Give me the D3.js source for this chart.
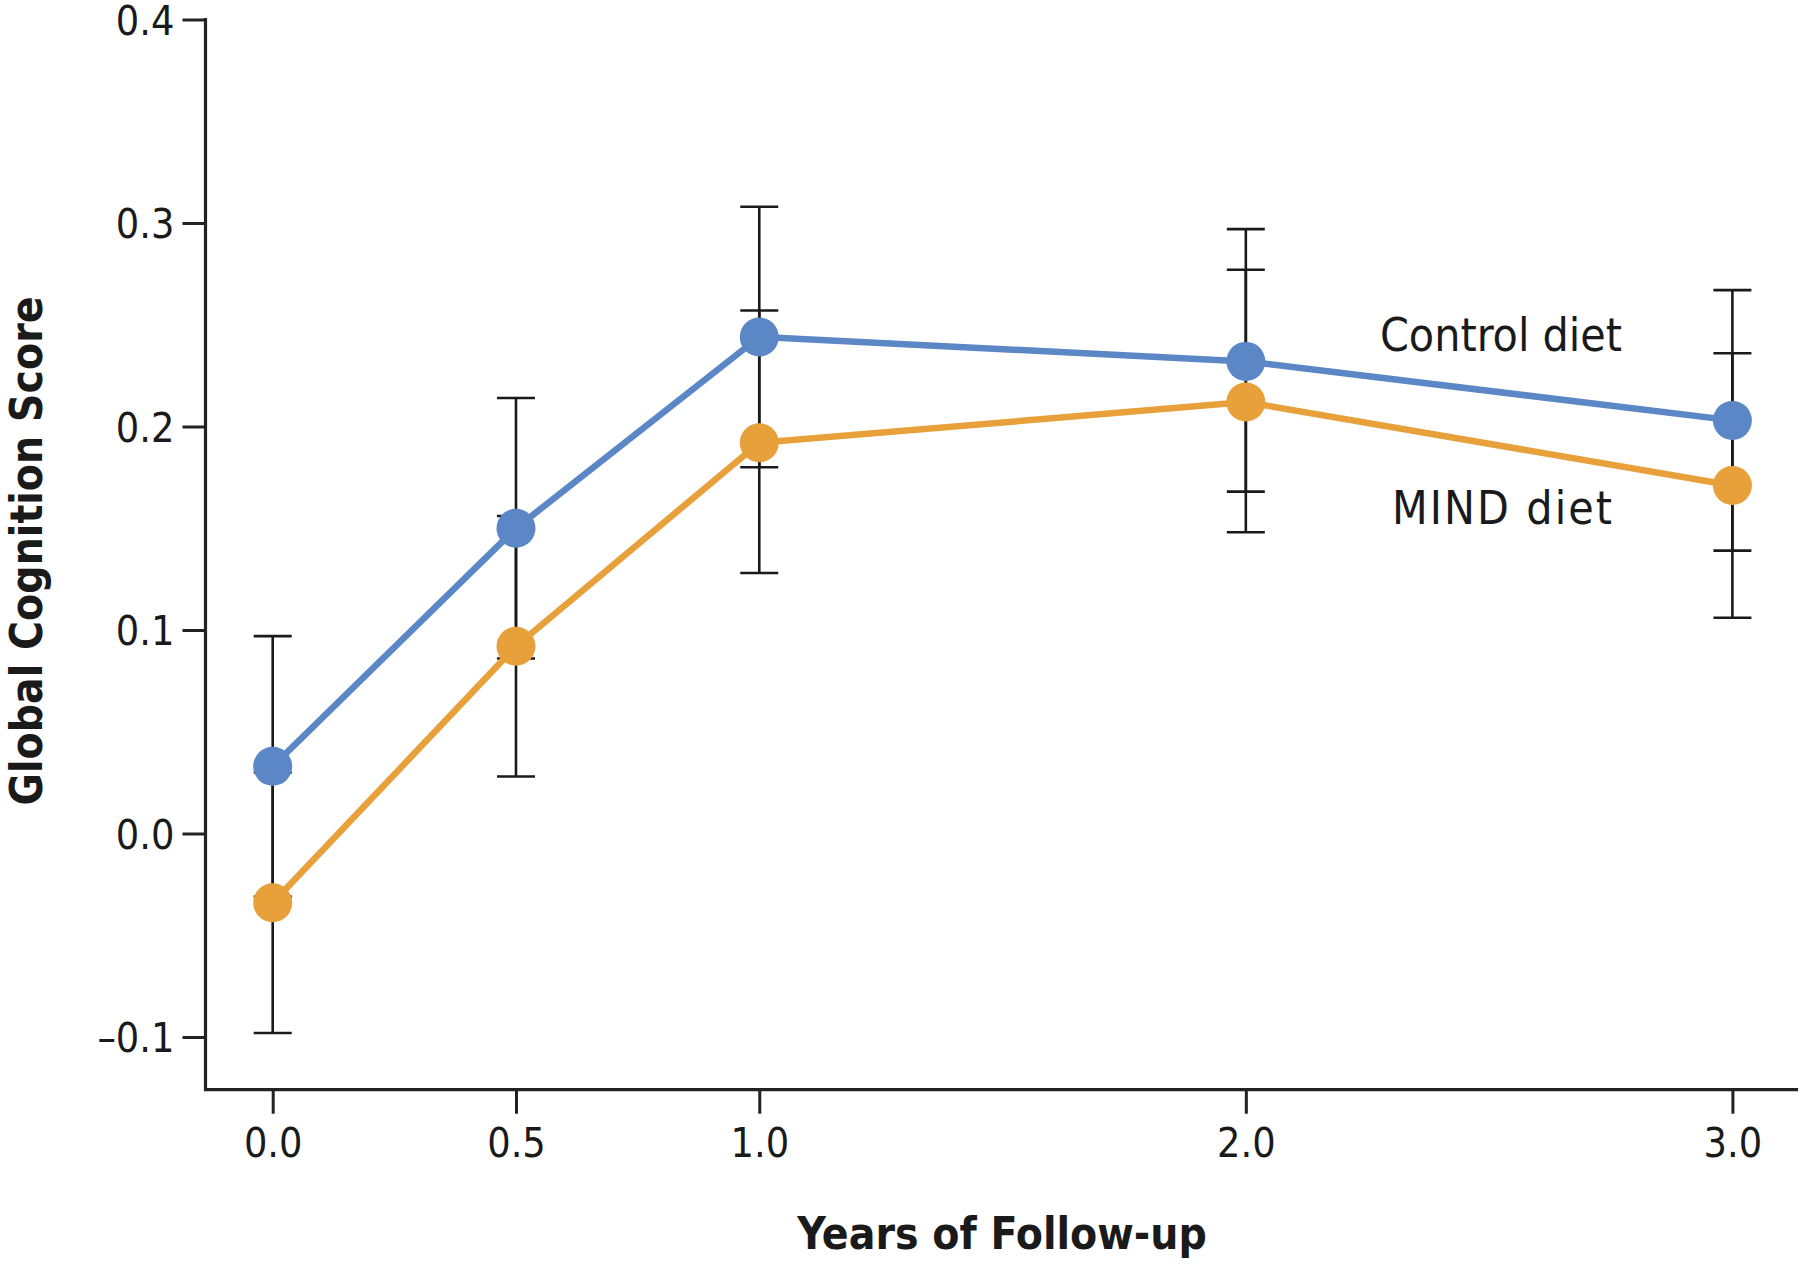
<!DOCTYPE html>
<html>
<head>
<meta charset="utf-8">
<script src="https://cdnjs.cloudflare.com/ajax/libs/d3/7.8.5/d3.min.js"></script>
<style>
  body { margin: 0; background: #fff; }
  text { font-family: "Liberation Sans Narrow", "DejaVu Sans Condensed", "Open Sans", sans-serif; fill: #1a1a1a; }
  .tick text { font-size: 41px; }
  .axis-title { font-weight: bold; font-size: 44px; }
  .series-label { font-size: 46px; }
</style>
</head>
<body>
<div id="chart"></div>
<script>

//Data
var years = [0.0, 0.5, 1.0, 2.0, 3.0];
var xTicks = [0.0, 0.5, 1.0, 2.0, 3.0];
var yTicks = [-0.1, 0.0, 0.1, 0.2, 0.3, 0.4];

var controlMean  = [0.033, 0.150, 0.244, 0.232, 0.203];
var controlLower = [-0.031, 0.086, 0.180, 0.168, 0.139];
var controlUpper = [0.097, 0.214, 0.308, 0.297, 0.267];

var mindMean  = [-0.034, 0.092, 0.192, 0.212, 0.171];
var mindLower = [-0.098, 0.028, 0.128, 0.148, 0.106];
var mindUpper = [0.030, 0.156, 0.257, 0.277, 0.236];

var series = [
  {name: "Control diet", color: "#5b87c6", mean: controlMean, lower: controlLower, upper: controlUpper},
  {name: "MIND diet", color: "#e8a03b", mean: mindMean, lower: mindLower, upper: mindUpper}
];

//Dimensions
var W = 1800, H = 1264;
var axisX = 205.5, axisY = 1089.7, axisRight = 1798;

var svg = d3.select("#chart").append("svg")
  .attr("width", W)
  .attr("height", H);

//Scales
var x = d3.scaleLinear().domain([0, 3]).range([272.7, 1732.4]);
var y = d3.scaleLinear().domain([-0.1, 0.4]).range([1037, 19.5]);

//Y axis
var yAxis = svg.append("g")
  .attr("transform", "translate(" + axisX + ",0)")
  .call(d3.axisLeft(y).tickValues(yTicks).tickSize(23).tickPadding(8).tickSizeOuter(0)
    .tickFormat(function(d) { return d < 0 ? "\u2013" + d3.format(".1f")(-d) : d3.format(".1f")(d); }));
yAxis.select(".domain").remove();
yAxis.selectAll(".tick line").attr("stroke", "#222").attr("stroke-width", 3);
yAxis.selectAll(".tick text").attr("fill", "#1a1a1a").attr("dy", "0.36em");

svg.append("line")
  .attr("x1", axisX).attr("x2", axisX)
  .attr("y1", y(0.4) - 1.5).attr("y2", axisY)
  .attr("stroke", "#222").attr("stroke-width", 3.2);

//X axis
var xAxis = svg.append("g")
  .attr("transform", "translate(0," + axisY + ")")
  .call(d3.axisBottom(x).tickValues(xTicks).tickSize(24).tickPadding(14).tickSizeOuter(0)
    .tickFormat(d3.format(".1f")));
xAxis.select(".domain").remove();
xAxis.selectAll(".tick line").attr("stroke", "#222").attr("stroke-width", 3);
xAxis.selectAll(".tick text").attr("fill", "#1a1a1a");

svg.append("line")
  .attr("x1", axisX - 1.5).attr("x2", axisRight)
  .attr("y1", axisY).attr("y2", axisY)
  .attr("stroke", "#222").attr("stroke-width", 3.2);

//Axis titles
svg.append("text")
  .attr("class", "axis-title")
  .attr("transform", "translate(42," + 551 + ") rotate(-90)")
  .attr("text-anchor", "middle")
  .text("Global Cognition Score");

svg.append("text")
  .attr("class", "axis-title")
  .attr("x", 1002)
  .attr("y", 1249)
  .attr("text-anchor", "middle")
  .text("Years of Follow-up");

//Error bars (behind lines)
var capW = 19;
series.forEach(function(s) {
  var g = svg.append("g").attr("class", "errorbars");
  years.forEach(function(t, i) {
    g.append("line")
      .attr("x1", x(t)).attr("x2", x(t))
      .attr("y1", y(s.lower[i])).attr("y2", y(s.upper[i]))
      .attr("stroke", "#1a1a1a").attr("stroke-width", 2.6);
    [s.lower[i], s.upper[i]].forEach(function(v) {
      g.append("line")
        .attr("x1", x(t) - capW).attr("x2", x(t) + capW)
        .attr("y1", y(v)).attr("y2", y(v))
        .attr("stroke", "#1a1a1a").attr("stroke-width", 2.6);
    });
  });
});

//Lines and markers
var line = d3.line()
  .x(function(d, i) { return x(years[i]); })
  .y(function(d) { return y(d); });

series.forEach(function(s) {
  svg.append("path")
    .datum(s.mean)
    .attr("fill", "none")
    .attr("stroke", s.color)
    .attr("stroke-width", 6.5)
    .attr("d", line);
});

series.forEach(function(s) {
  svg.selectAll(null)
    .data(s.mean)
    .enter().append("circle")
    .attr("cx", function(d, i) { return x(years[i]); })
    .attr("cy", function(d) { return y(d); })
    .attr("r", 19.5)
    .attr("fill", s.color);
});

//Series labels
svg.append("text")
  .attr("class", "series-label")
  .attr("x", 1501).attr("y", 351)
  .attr("text-anchor", "middle")
  .text("Control diet");

svg.append("text")
  .attr("class", "series-label")
  .attr("x", 1502).attr("y", 524)
  .attr("text-anchor", "middle")
  .attr("textLength", 220)
  .text("MIND diet");

</script>
</body>
</html>
